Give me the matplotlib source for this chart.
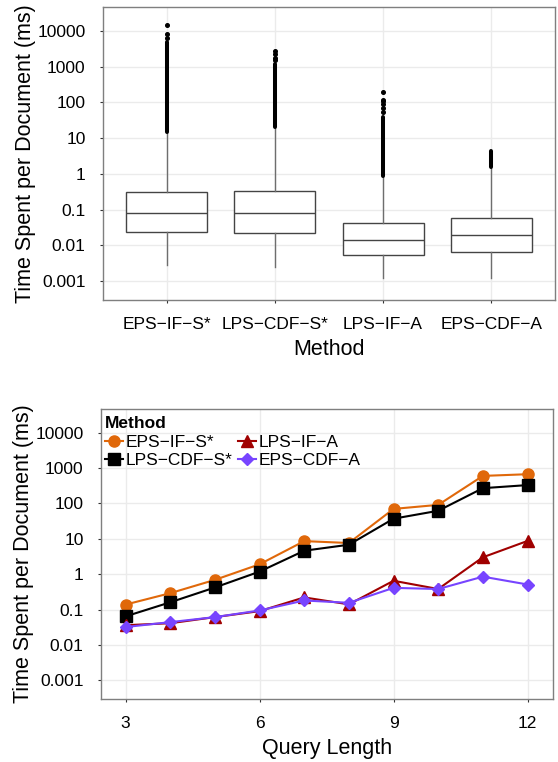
import matplotlib
matplotlib.use("Agg")
import matplotlib.pyplot as plt
import numpy as np

plt.rcParams['font.family'] = ['Liberation Sans', 'DejaVu Sans']

# ---------------- data: box plot ----------------
methods = ["EPS\u2212IF\u2212S*", "LPS\u2212CDF\u2212S*", "LPS\u2212IF\u2212A", "EPS\u2212CDF\u2212A"]
box_q1 = [0.024, 0.0225, 0.0053, 0.0065]
box_med = [0.082, 0.080, 0.0143, 0.0194]
box_q3 = [0.32, 0.34, 0.043, 0.060]
whisk_lo = [0.0028, 0.0025, 0.0012, 0.0012]
whisk_hi = [15.3, 19.9, 0.88, 1.58]
# dense outlier stream (lowest / highest of the packed run)
flier_dense_lo = [15.3, 19.9, 0.9, 1.6]
flier_dense_hi = [5000, 1200, 40, 4.3]
# sparse individual outliers above the dense run
flier_sparse = [[6500, 8000, 14500],
                [1500, 1800, 2200, 2700],
                [55, 70, 90, 110, 120, 190],
                []]

# ---------------- data: line chart ----------------
query_len = [3, 4, 5, 6, 7, 8, 9, 10, 11, 12]
eps_if_s = [0.138, 0.29, 0.69, 1.9, 8.6, 7.6, 70, 91, 600, 670]
lps_cdf_s = [0.064, 0.16, 0.42, 1.18, 4.6, 6.8, 37, 62, 270, 330]
lps_if_a = [0.036, 0.041, 0.061, 0.09, 0.22, 0.14, 0.65, 0.38, 3.0, 8.7]
eps_cdf_a = [0.032, 0.044, 0.061, 0.094, 0.18, 0.155, 0.41, 0.38, 0.85, 0.51]

yticks = [0.001, 0.01, 0.1, 1, 10, 100, 1000, 10000]
ytick_labels = ["0.001", "0.01", "0.1", "1", "10", "100", "1000", "10000"]
xticks_line = [3, 6, 9, 12]

series = [
    (methods[0], eps_if_s, "#e0680a", "o", 8.0),
    (methods[1], lps_cdf_s, "#000000", "s", 9.0),
    (methods[2], lps_if_a, "#a00000", "^", 9.0),
    (methods[3], eps_cdf_a, "#7744ff", "D", 6.0),
]

W, H = 558, 762
fig = plt.figure(figsize=(W / 100, H / 100), dpi=100)

GRID = "#ebebeb"
BORDER = "#7f7f7f"
TICKFS = 12.5
LABFS = 15.5


def style_axes(ax):
    ax.set_yscale("log")
    ax.set_ylim(10 ** -3.53, 10 ** 4.67)
    ax.set_yticks(yticks)
    ax.set_yticklabels(ytick_labels)
    ax.yaxis.set_minor_locator(matplotlib.ticker.NullLocator())
    ax.grid(True, color=GRID, linewidth=1.0)
    ax.set_axisbelow(True)
    for s in ax.spines.values():
        s.set_color(BORDER)
        s.set_linewidth(1.0)
    ax.tick_params(axis="both", length=2.5, width=0.8, color="#333333",
                   labelsize=TICKFS, labelcolor="black")
    ax.tick_params(axis="y", pad=10)
    ax.tick_params(axis="x", pad=10)


# ---------------- top: box plot ----------------
ax1 = fig.add_axes([103 / W, 1 - 300 / H, (555 - 103) / W, (300 - 7) / H])
style_axes(ax1)
pos = np.arange(1, len(methods) + 1)
stats = []
for i in range(len(methods)):
    stats.append(dict(med=box_med[i], q1=box_q1[i], q3=box_q3[i],
                      whislo=whisk_lo[i], whishi=whisk_hi[i],
                      fliers=flier_sparse[i], label=methods[i]))
ax1.bxp(stats, positions=pos, widths=0.75, patch_artist=True, showcaps=False,
        boxprops=dict(facecolor="white", edgecolor="#444444", linewidth=1.0),
        medianprops=dict(color="#444444", linewidth=1.0),
        whiskerprops=dict(color="#6e6e6e", linewidth=1.0),
        flierprops=dict(marker="o", markersize=2.6, markerfacecolor="black",
                        markeredgecolor="black"),
        zorder=3)
ax1.vlines(pos, flier_dense_lo, flier_dense_hi, color="black", linewidth=2.9,
           capstyle="round", zorder=4)
ax1.set_xlim(0.41, 4.59)
ax1.set_xticks(pos)
ax1.set_xticklabels(methods)
ax1.set_xlabel("Method", fontsize=LABFS, labelpad=5)
ax1.set_ylabel("Time Spent per Document (ms)", fontsize=LABFS, labelpad=1)

# ---------------- bottom: line chart ----------------
ax2 = fig.add_axes([101 / W, 1 - 699 / H, (553 - 101) / W, (699 - 409) / H])
style_axes(ax2)
handles = []
for name, vals, col, mk, ms in series:
    h, = ax2.plot(query_len, vals, color=col, linewidth=1.5, marker=mk,
                  markersize=ms, markeredgecolor=col, markerfacecolor=col,
                  label=name, zorder=3)
    handles.append(h)
ax2.set_xlim(2.45, 12.57)
ax2.set_xticks(xticks_line)
ax2.set_xticklabels([str(v) for v in xticks_line])
ax2.set_xlabel("Query Length", fontsize=LABFS, labelpad=5)
ax2.set_ylabel("Time Spent per Document (ms)", fontsize=LABFS, labelpad=1)
leg = ax2.legend(handles=handles, title="Method", ncol=2, loc="upper left",
                 bbox_to_anchor=(0.0, 0.99), frameon=False, fontsize=12.5,
                 handlelength=1.0, handletextpad=0.15, columnspacing=0.35,
                 labelspacing=0.2, borderpad=0.25, borderaxespad=0.0,
                 alignment="left",
                 title_fontproperties=dict(weight="bold", size=12.5))

fig.savefig("out.png", dpi=100)
